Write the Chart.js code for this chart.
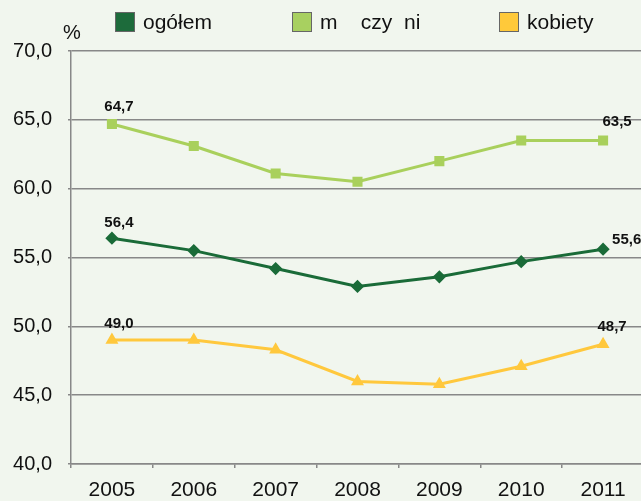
<!DOCTYPE html>
<html>
<head>
<meta charset="utf-8">
<script src="https://cdn.jsdelivr.net/npm/chart.js@4.4.1/dist/chart.umd.min.js"></script>
<style>
    html, body { margin: 0; padding: 0; background: #f1f6ee; overflow: hidden; }
    #wrap { position: relative; width: 652px; height: 501px; }
    .lg { position: absolute; top: 12px; height: 20px; display: flex; align-items: center;
          font: 21px "Liberation Sans", Arial, sans-serif; color: #111; white-space: pre; }
    .lg i { display: inline-block; width: 18px; height: 18px; border: 1px solid #666; margin-right: 8px; }
</style>
</head>
<body>
<div id="wrap">
    <canvas id="chart" width="652" height="501"></canvas>
    <div class="lg" style="left:115px"><i style="background:#1d6b3b"></i>ogółem</div>
    <div class="lg" style="left:292px"><i style="background:#a8d060"></i>m    czy  ni</div>
    <div class="lg" style="left:499px"><i style="background:#ffc93a"></i>kobiety</div>
</div>
<script>
// Categories and series
const YEARS = ['2005', '2006', '2007', '2008', '2009', '2010', '2011'];
const OGOLEM = [56.4, 55.5, 54.2, 52.9, 53.6, 54.7, 55.6];
const MEZCZYZNI = [64.7, 63.1, 61.1, 60.5, 62.0, 63.5, 63.5];
const KOBIETY = [49.0, 49.0, 48.3, 46.0, 45.8, 47.1, 48.7];
const Y_MIN = 40, Y_MAX = 70, Y_STEP = 5;

const FONT = '"Liberation Sans", Arial, sans-serif';
const fmt = (v) => v.toFixed(1).replace('.', ',');

// Value labels shown only on first and last point; offsets in px
const LABEL_OFFSETS = [
    { 0: [7, -15], 6: [9, -9, 'left'] },
    { 0: [7, -17], 6: [14, -19] },
    { 0: [7, -16], 6: [9, -17] },
];

const valueLabels = {
    id: 'valueLabels',
    afterDatasetsDraw(chart) {
        const ctx = chart.ctx;
        ctx.save();
        ctx.font = 'bold 15px ' + FONT;
        ctx.fillStyle = '#111';
        ctx.textBaseline = 'middle';
        chart.data.datasets.forEach((ds, di) => {
            const meta = chart.getDatasetMeta(di);
            const offs = LABEL_OFFSETS[di];
            Object.keys(offs).forEach((k) => {
                const pt = meta.data[k];
                const [dx, dy, align] = offs[k];
                ctx.textAlign = align || 'center';
                ctx.fillText(fmt(ds.data[k]), pt.x + dx, pt.y + dy);
            });
        });
        ctx.restore();
    },
};

const percentSign = {
    id: 'percentSign',
    afterDraw(chart) {
        const ctx = chart.ctx;
        ctx.save();
        ctx.font = '20px ' + FONT;
        ctx.fillStyle = '#111';
        ctx.textAlign = 'center';
        ctx.textBaseline = 'middle';
        ctx.fillText('%', 72, 33);
        ctx.restore();
    },
};

new Chart(document.getElementById('chart'), {
    type: 'line',
    data: {
        labels: YEARS,
        datasets: [
            { label: 'ogółem', data: OGOLEM, borderColor: '#1a6b38', backgroundColor: '#1a6b38',
              borderWidth: 3, pointStyle: 'rectRot', pointRadius: 4.5 },
            { label: 'mężczyźni', data: MEZCZYZNI, borderColor: '#a9d05c', backgroundColor: '#a9d05c',
              borderWidth: 3, pointStyle: 'rect', pointRadius: 5 },
            { label: 'kobiety', data: KOBIETY, borderColor: '#ffc83d', backgroundColor: '#ffc83d',
              borderWidth: 3, pointStyle: 'triangle', pointRadius: 4.5 },
        ],
    },
    options: {
        responsive: false,
        animation: false,
        layout: { padding: { top: 51, left: 0, right: 0, bottom: 0 } },
        plugins: { legend: { display: false }, tooltip: { enabled: false } },
        elements: { line: { tension: 0 } },
        scales: {
            x: {
                offset: true,
                grid: { display: true, drawOnChartArea: false, offset: true, color: '#888', tickLength: 4, lineWidth: 1.5 },
                border: { color: '#888', width: 1.5 },
                ticks: { color: '#111', font: { family: FONT, size: 21 }, padding: 10 },
                afterFit: (s) => { s.height = 37; },
            },
            y: {
                min: Y_MIN, max: Y_MAX,
                grid: { color: '#888', lineWidth: 1.5, tickLength: 3 },
                border: { color: '#888', width: 1.5 },
                ticks: { stepSize: Y_STEP, color: '#111', font: { family: FONT, size: 20 }, padding: 16,
                         callback: (v) => fmt(v) },
                afterFit: (s) => { s.width = 71; },
            },
        },
    },
    plugins: [valueLabels, percentSign],
});
</script>
</body>
</html>
